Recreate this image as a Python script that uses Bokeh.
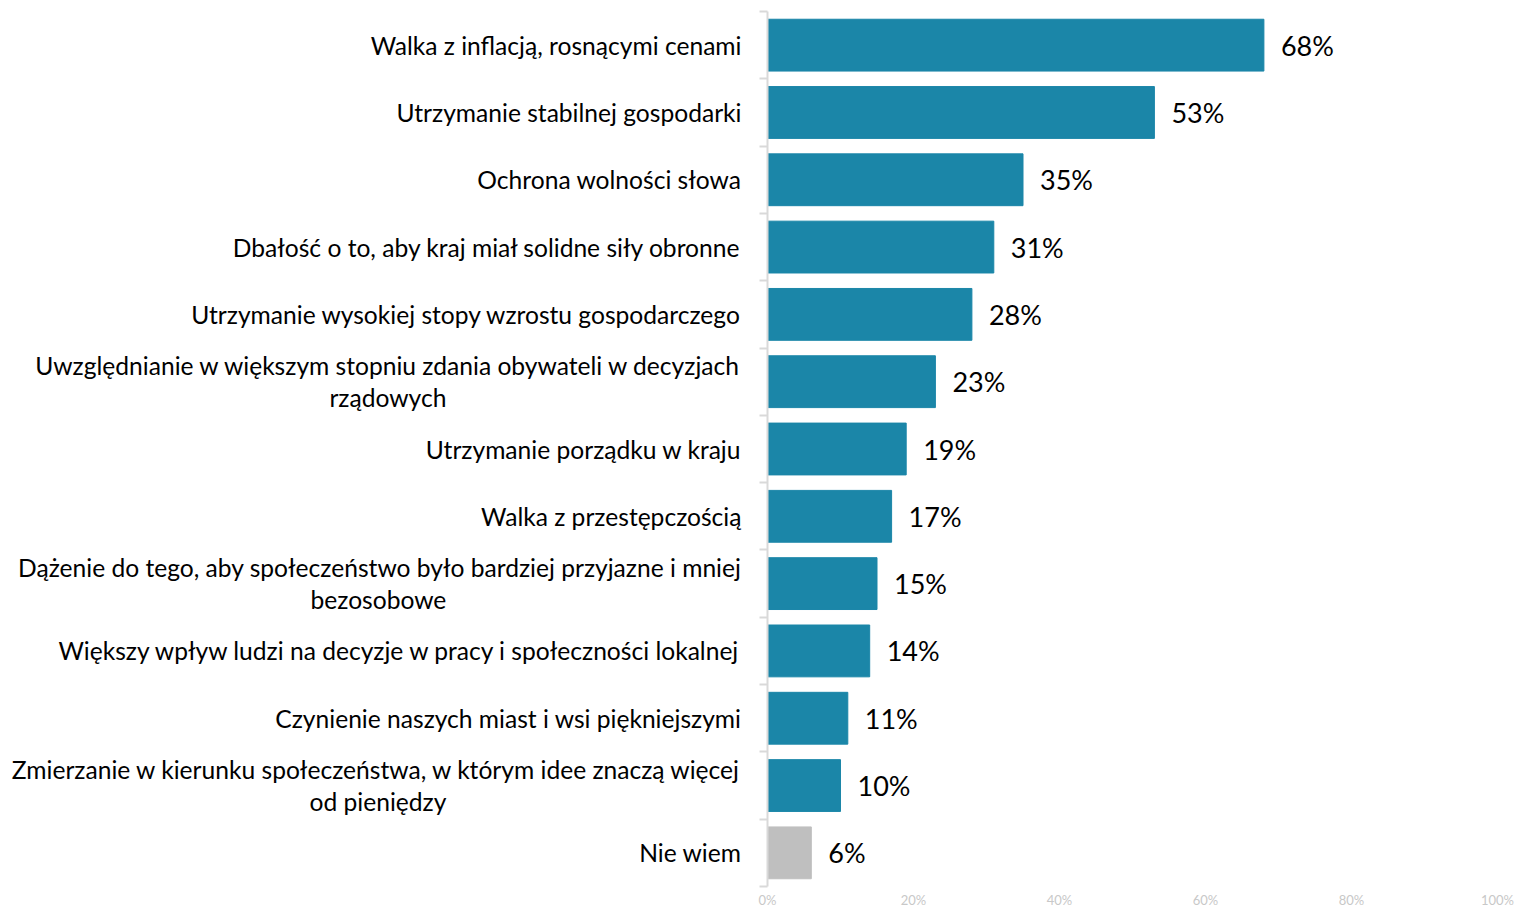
from bokeh.plotting import figure
from bokeh.models import ColumnDataSource, LabelSet, Range1d, FixedTicker, PrintfTickFormatter
from bokeh.core.properties import value
from bokeh.embed import file_html
from bokeh.resources import INLINE

categories = [
    "Walka z inflacją, rosnącymi cenami",
    "Utrzymanie stabilnej gospodarki",
    "Ochrona wolności słowa",
    "Dbałość o to, aby kraj miał solidne siły obronne",
    "Utrzymanie wysokiej stopy wzrostu gospodarczego",
    "Uwzględnianie w większym stopniu zdania obywateli w decyzjach\nrządowych",
    "Utrzymanie porządku w kraju",
    "Walka z przestępczością",
    "Dążenie do tego, aby społeczeństwo było bardziej przyjazne i mniej\nbezosobowe",
    "Większy wpływ ludzi na decyzje w pracy i społeczności lokalnej",
    "Czynienie naszych miast i wsi piękniejszymi",
    "Zmierzanie w kierunku społeczeństwa, w którym idee znaczą więcej\nod pieniędzy",
    "Nie wiem",
]
values = [68, 53, 35, 31, 28, 23, 19, 17, 15, 14, 11, 10, 6]
value_labels = ["68%", "53%", "35%", "31%", "28%", "23%", "19%", "17%", "15%", "14%", "11%", "10%", "6%"]
x_ticks = [0, 20, 40, 60, 80, 100]

BLUE = "#1b86a8"
GRAY = "#bfbfbf"
FONT = "Lato"

n = len(categories)
ypos = list(range(n))
colors = [GRAY if c == "Nie wiem" else BLUE for c in categories]


def centred(label, pad="\u2003" * 16):
    # second line of a wrapped label is centred under the first one (as in the original)
    if "\n" in label:
        first, second = label.split("\n", 1)
        return first + "\n" + second + pad
    return label


src = ColumnDataSource(dict(y=ypos, v=values, cat=categories, lab=value_labels, color=colors))

p = figure(width=1530, height=910, output_backend="svg", toolbar_location=None,
           x_range=Range1d(0, 100), y_range=Range1d(n - 0.5, -0.5),
           min_border_left=767, min_border_right=33, min_border_top=11, min_border_bottom=20)
p.outline_line_color = None
p.grid.grid_line_color = None
p.background_fill_color = "white"

p.hbar(y="y", left=0, right="v", height=0.77, color="color", source=src)

# value labels
p.add_layout(LabelSet(x="v", y="y", text="lab", source=src, x_offset=17, y_offset=0,
                      text_align="left", text_baseline="middle",
                      text_font=value(FONT), text_font_size=value("27px"), text_color="black"))

# x axis
xa = p.xaxis[0]
xa.ticker = FixedTicker(ticks=x_ticks)
xa.formatter = PrintfTickFormatter(format="%d%%")
xa.axis_line_color = None
xa.major_tick_line_color = None
xa.minor_tick_line_color = None
xa.major_tick_out = 0
xa.major_tick_in = 0
xa.major_label_text_color = "#c8c8c8"
xa.major_label_text_font = FONT
xa.major_label_text_font_size = "13px"
xa.major_label_standoff = 5

# y axis: category labels, line with ticks at category boundaries
ya = p.yaxis[0]
ya.ticker = FixedTicker(ticks=ypos, minor_ticks=[i - 0.5 for i in range(n + 1)])
ya.major_label_overrides = {i: centred(c) for i, c in zip(ypos, categories)}
ya.major_tick_line_color = None
ya.major_tick_out = 0
ya.major_tick_in = 0
ya.major_label_standoff = 18
ya.major_label_text_font = FONT
ya.major_label_text_font_size = "24.6px"
ya.major_label_text_color = "black"
ya.major_label_text_line_height = 1.1
ya.axis_line_color = "#d9d9d9"
ya.axis_line_width = 2
ya.minor_tick_line_color = "#d9d9d9"
ya.minor_tick_line_width = 2
ya.minor_tick_in = 0
ya.minor_tick_out = 8

open("out.html", "w").write(file_html(p, INLINE))
